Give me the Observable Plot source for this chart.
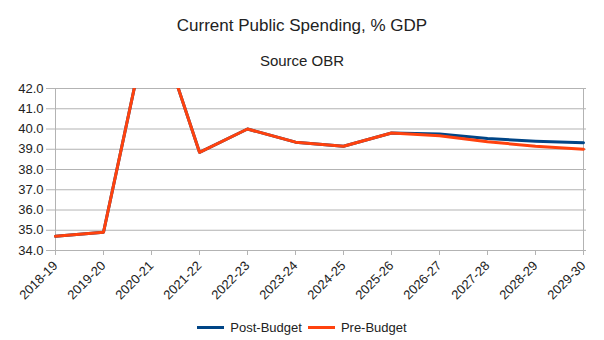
<!DOCTYPE html>
<html>
<head>
<meta charset="utf-8">
<script src="https://cdn.jsdelivr.net/npm/d3@7"></script>
<script src="https://cdn.jsdelivr.net/npm/@observablehq/plot@0.6"></script>
<style>
  html, body { margin: 0; padding: 0; background: #fff; }
  #wrap { position: relative; width: 604px; height: 340px; font-family: "Liberation Sans", Arial, sans-serif; color: #222; }
  #title { position: absolute; left: 0; width: 604px; top: 16px; text-align: center; font-size: 17px; }
  #subtitle { position: absolute; left: 0; width: 604px; top: 52px; text-align: center; font-size: 15px; }
  #chart { position: absolute; left: 0; top: 78px; }
  #legend { position: absolute; left: 0; width: 604px; top: 317px; text-align: center; font-size: 13px; }
  .item { display: inline-flex; align-items: center; margin: 0 3px; }
  .sw { display: inline-block; width: 27px; height: 3px; margin-right: 6px; }
</style>
</head>
<body>
<div id="wrap">
  <div id="title">Current Public Spending, % GDP</div>
  <div id="subtitle">Source OBR</div>
  <div id="chart"></div>
  <div id="legend"></div>
</div>
<script>
const categories = ["2018-19","2019-20","2020-21","2021-22","2022-23","2023-24","2024-25","2025-26","2026-27","2027-28","2028-29","2029-30"];
const postBudget = [34.7, 34.9, 46.0, 38.85, 40.0, 39.35, 39.15, 39.8, 39.75, 39.53, 39.4, 39.32];
const preBudget  = [34.7, 34.9, 46.0, 38.85, 40.0, 39.35, 39.15, 39.8, 39.67, 39.37, 39.15, 39.0];
const seriesNames = ["Post-Budget", "Pre-Budget"];
const seriesColors = ["#004586", "#ff420e"];
const yTicks = [34, 35, 36, 37, 38, 39, 40, 41, 42];

const rows = [];
categories.forEach((c, i) => {
  rows.push({year: c, value: postBudget[i], series: seriesNames[0]});
  rows.push({year: c, value: preBudget[i], series: seriesNames[1]});
});

const grid = "#b3b3b3";
const plot = Plot.plot({
  width: 604,
  height: 230,
  marginTop: 10,
  marginBottom: 58,
  marginLeft: 51,
  marginRight: 18,
  style: {fontFamily: "Liberation Sans, Arial, sans-serif", background: "transparent"},
  x: {type: "point", domain: categories, padding: 0},
  y: {domain: [34, 42]},
  color: {domain: seriesNames, range: seriesColors},
  marks: [
    Plot.ruleY(yTicks, {stroke: grid, strokeWidth: 1}),
    Plot.ruleX([categories[0], categories[categories.length - 1]], {stroke: grid}),
    Plot.axisY({ticks: yTicks, tickSize: 5, tickPadding: 3, stroke: grid, fill: "#222", fontSize: 13, tickFormat: d => d.toFixed(1), label: null}),
    Plot.axisX({tickSize: 5, tickPadding: 8, tickRotate: -45, stroke: grid, fill: "#222", fontSize: 13, label: null}),
    Plot.line(rows.filter(d => d.series === seriesNames[0]), {x: "year", y: "value", stroke: "series", strokeWidth: 3, clip: true}),
    Plot.line(rows.filter(d => d.series === seriesNames[1]), {x: "year", y: "value", stroke: "series", strokeWidth: 3, clip: true})
  ]
});
document.getElementById("chart").appendChild(plot);

const legend = document.getElementById("legend");
seriesNames.forEach((n, i) => {
  const s = document.createElement("span");
  s.className = "item";
  s.innerHTML = `<span class="sw" style="background:${seriesColors[i]}"></span>${n}`;
  legend.appendChild(s);
});
</script>
</body>
</html>
